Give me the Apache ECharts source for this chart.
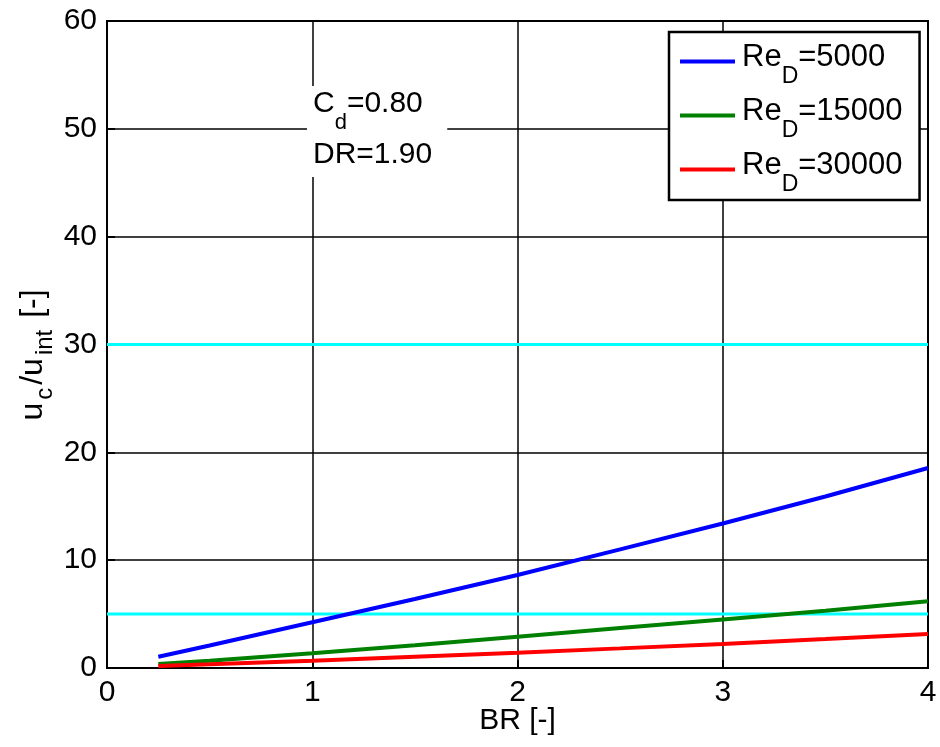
<!DOCTYPE html>
<html>
<head>
<meta charset="utf-8">
<script src="https://cdn.jsdelivr.net/npm/echarts@6/dist/echarts.min.js"></script>
<style>html,body{margin:0;padding:0;background:#fff}#c{width:940px;height:747px}</style>
</head>
<body>
<div id="c"></div>
<script>
const brValues = [0.25, 0.5, 1, 1.5, 2, 2.5, 3, 3.5, 4];
const re5000  = [1.05, 2.08, 4.24, 6.4, 8.63, 11.0, 13.4, 15.9, 18.55];
const re15000 = [0.38, 0.68, 1.36, 2.1, 2.9, 3.7, 4.5, 5.3, 6.2];
const re30000 = [0.18, 0.34, 0.68, 1.05, 1.42, 1.82, 2.23, 2.68, 3.15];
const seriesNames = ['5000', '15000', '30000'];
const limitLevels = [30, 5];
const xTicks = [0, 1, 2, 3, 4];
const yTicks = [0, 10, 20, 30, 40, 50, 60];

const FONT = '"Liberation Sans", Arial, sans-serif';
const pairs = ys => brValues.map((x, i) => [x, ys[i]]);
const chart = echarts.init(document.getElementById('c'), null, {renderer: 'canvas'});

function mkRich(fm, fs, pad, padMain, padSub) {
  return {
    n: {fontSize: fm, fontFamily: FONT, color: '#000', lineHeight: fm, padding: [0, 0, padMain, pad]},
    s: {fontSize: fs, fontFamily: FONT, color: '#000', lineHeight: 4, padding: [padSub, 0, 0, pad]}
  };
}
const legendRich = mkRich(31, 23, 0, 8, 30);
const noteRich = mkRich(30, 22, 0, 8, 30);
const yRich = mkRich(32, 24, 3, 0, 24);
yRich.e = Object.assign({}, yRich.n, {padding: [0, 24, 0, 3]});

const colors = ['#0000FF', '#008000', '#FF0000'];
const mainSeries = [re5000, re15000, re30000].map((d, i) => ({
  name: 'Re_D=' + seriesNames[i],
  type: 'line',
  data: pairs(d),
  symbol: 'none',
  lineStyle: {width: 4, color: colors[i]},
  itemStyle: {color: colors[i]},
  z: 5
}));

const limitSeries = limitLevels.map(v => ({
  name: 'limit' + v,
  type: 'line',
  data: [[0, v], [4, v]],
  symbol: 'none',
  lineStyle: {width: 3, color: '#00FFFF'},
  z: 4,
  silent: true
}));

chart.setOption({
  animation: false,
  backgroundColor: '#fff',
  grid: {left: 107, right: 12, top: 21, bottom: 79, containLabel: false, outerBoundsMode: 'none',
         show: true, borderColor: '#000', borderWidth: 2},
  xAxis: {
    type: 'value', min: xTicks[0], max: xTicks[xTicks.length - 1], interval: 1,
    name: 'BR [-]', nameLocation: 'middle', nameGap: 38, nameMoveOverlap: false,
    nameTextStyle: {fontSize: 30, fontFamily: FONT, color: '#000'},
    axisLine: {show: true, lineStyle: {color: '#000', width: 2}},
    axisTick: {show: true, inside: true, length: 8, lineStyle: {color: '#000', width: 2}},
    axisLabel: {fontSize: 30, fontFamily: FONT, color: '#000', margin: 10},
    splitLine: {show: true, lineStyle: {color: '#000', width: 1.5}}
  },
  yAxis: {
    type: 'value', min: yTicks[0], max: yTicks[yTicks.length - 1], interval: 10,
    name: '{n|u}{s|c}{n|/u}{s|int}{e| [-]}', nameLocation: 'middle', nameGap: 58, nameRotate: 90,
    nameMoveOverlap: false,
    nameTextStyle: {rich: yRich},
    axisLine: {show: true, lineStyle: {color: '#000', width: 2}},
    axisTick: {show: true, inside: true, length: 8, lineStyle: {color: '#000', width: 2}},
    axisLabel: {fontSize: 30, fontFamily: FONT, color: '#000', margin: 10},
    splitLine: {show: true, lineStyle: {color: '#000', width: 1.5}}
  },
  legend: {
    data: mainSeries.map(s => s.name),
    orient: 'vertical',
    left: 669, top: 32,
    padding: [3, 17, 4, 11],
    icon: 'rect',
    itemWidth: 55, itemHeight: 4, itemGap: 1,
    backgroundColor: '#fff',
    borderColor: '#000', borderWidth: 2.5,
    formatter: name => '{n|Re}{s|D}{n|=' + name.split('=')[1] + '}',
    textStyle: {rich: legendRich, padding: [0, 0, 0, 2]}
  },
  graphic: [{
    type: 'text',
    left: 307, top: 82,
    z: 100,
    style: {
      text: '{n|C}{s|d}{n|=0.80}\n{m|DR=1.90}',
      rich: {
        n: noteRich.n, s: noteRich.s,
        m: {fontSize: 30, fontFamily: FONT, color: '#000', lineHeight: 30, padding: [34, 0, 0, 0]}
      },
      backgroundColor: '#fff',
      padding: [7, 15, 24, 6],
      fill: '#000'
    }
  }],
  series: limitSeries.concat(mainSeries)
});
</script>
</body>
</html>
